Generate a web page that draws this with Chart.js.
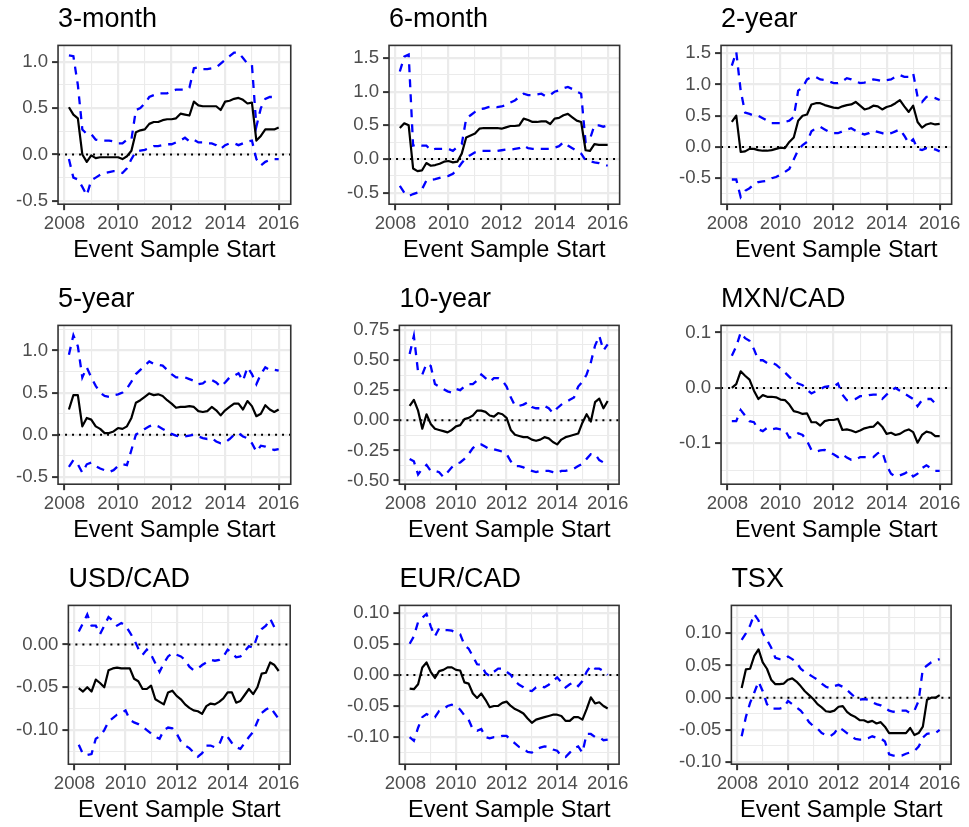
<!DOCTYPE html>
<html>
<head>
<meta charset="utf-8">
<title>Rolling event-sample estimates</title>
<script src="https://cdn.jsdelivr.net/npm/chart.js@4/dist/chart.umd.min.js"></script>
<style>
  html, body { margin: 0; padding: 0; background: #ffffff; overflow: hidden; }
  body { width: 969px; height: 827px; position: relative; }
  .panel { position: absolute; height: 280px; }
</style>
</head>
<body>
<script>
// sample start dates, every two months
const dates = [
  '2008-03', '2008-05', '2008-07', '2008-09', '2008-11',
  '2009-01', '2009-03', '2009-05', '2009-07', '2009-09', '2009-11',
  '2010-01', '2010-03', '2010-05', '2010-07', '2010-09', '2010-11',
  '2011-01', '2011-03', '2011-05', '2011-07', '2011-09', '2011-11',
  '2012-01', '2012-03', '2012-05', '2012-07', '2012-09', '2012-11',
  '2013-01', '2013-03', '2013-05', '2013-07', '2013-09', '2013-11',
  '2014-01', '2014-03', '2014-05', '2014-07', '2014-09', '2014-11',
  '2015-01', '2015-03', '2015-05', '2015-07', '2015-09', '2015-11',
  '2016-01'
];
const xTickLabels = ['2008', '2010', '2012', '2014', '2016'];

// 3-month
const threeMonthEst = [0.51, 0.43, 0.39, 0.0, -0.08, -0.01, -0.04, -0.03, -0.03, -0.03, -0.03, -0.03, -0.05, -0.02, 0.04, 0.24, 0.26, 0.27, 0.33, 0.35, 0.35, 0.37, 0.38, 0.38, 0.39, 0.44, 0.43, 0.42, 0.57, 0.53, 0.52, 0.52, 0.52, 0.52, 0.48, 0.57, 0.58, 0.6, 0.61, 0.59, 0.55, 0.56, 0.15, 0.2, 0.27, 0.27, 0.27, 0.29];
const threeMonthHi = [1.07, 1.06, 0.75, 0.27, 0.22, 0.22, 0.16, 0.15, 0.15, 0.15, 0.14, 0.12, 0.12, 0.16, 0.16, 0.48, 0.5, 0.55, 0.62, 0.64, 0.66, 0.66, 0.66, 0.68, 0.7, 0.7, 0.7, 0.72, 0.93, 0.94, 0.92, 0.92, 0.93, 0.94, 0.98, 1.02, 1.06, 1.1, 1.1, 1.04, 0.98, 0.97, 0.3, 0.5, 0.6, 0.62, 0.62, 0.62];
const threeMonthLo = [-0.05, -0.25, -0.27, -0.35, -0.44, -0.28, -0.25, -0.22, -0.2, -0.19, -0.18, -0.18, -0.2, -0.15, -0.05, 0.03, 0.04, 0.05, 0.07, 0.09, 0.09, 0.1, 0.11, 0.11, 0.13, 0.15, 0.18, 0.14, 0.16, 0.13, 0.13, 0.12, 0.12, 0.1, 0.06, 0.1, 0.12, 0.12, 0.1, 0.12, 0.14, 0.15, -0.05, -0.12, -0.08, -0.06, -0.05, -0.05];
const threeMonthTicks = ['-0.5', '0.0', '0.5', '1.0'];

// 6-month
const sixMonthEst = [0.46, 0.53, 0.5, -0.14, -0.18, -0.17, -0.06, -0.1, -0.09, -0.07, -0.04, -0.03, -0.05, -0.04, 0.08, 0.32, 0.35, 0.38, 0.45, 0.46, 0.46, 0.46, 0.46, 0.45, 0.47, 0.49, 0.49, 0.5, 0.6, 0.58, 0.55, 0.55, 0.56, 0.56, 0.52, 0.6, 0.61, 0.65, 0.67, 0.62, 0.57, 0.55, 0.13, 0.12, 0.22, 0.21, 0.21, 0.21];
const sixMonthHi = [1.3, 1.52, 1.55, 0.2, 0.22, 0.2, 0.2, 0.13, 0.15, 0.15, 0.15, 0.15, 0.12, 0.18, 0.22, 0.6, 0.65, 0.7, 0.74, 0.75, 0.77, 0.78, 0.77, 0.78, 0.8, 0.84, 0.87, 0.92, 0.97, 0.95, 0.95, 0.96, 0.97, 0.93, 0.95, 1.0, 1.02, 1.05, 1.07, 1.04, 1.0, 0.97, 0.25, 0.3, 0.5, 0.5, 0.48, 0.5];
const sixMonthLo = [-0.4, -0.5, -0.55, -0.52, -0.5, -0.45, -0.32, -0.31, -0.3, -0.28, -0.26, -0.25, -0.22, -0.15, -0.06, 0.02, 0.06, 0.1, 0.12, 0.12, 0.12, 0.12, 0.12, 0.13, 0.14, 0.14, 0.15, 0.16, 0.2, 0.16, 0.15, 0.15, 0.15, 0.15, 0.15, 0.17, 0.19, 0.25, 0.2, 0.16, 0.12, 0.08, -0.02, -0.03, -0.05, -0.06, -0.08, -0.1];
const sixMonthTicks = ['-0.5', '0.0', '0.5', '1.0', '1.5'];

// 2-year
const twoYearEst = [0.4, 0.5, -0.08, -0.07, -0.03, -0.03, -0.05, -0.06, -0.06, -0.05, -0.03, -0.01, -0.02, 0.08, 0.15, 0.42, 0.5, 0.52, 0.68, 0.7, 0.7, 0.67, 0.65, 0.63, 0.62, 0.65, 0.67, 0.68, 0.72, 0.66, 0.6, 0.62, 0.66, 0.65, 0.6, 0.64, 0.66, 0.7, 0.75, 0.65, 0.56, 0.66, 0.4, 0.31, 0.36, 0.38, 0.36, 0.37];
const twoYearHi = [1.3, 1.52, 0.9, 0.55, 0.53, 0.5, 0.5, 0.46, 0.42, 0.38, 0.38, 0.38, 0.4, 0.42, 0.48, 0.9, 0.95, 1.08, 1.12, 1.12, 1.08, 1.07, 1.05, 1.02, 1.02, 1.05, 1.1, 1.08, 1.05, 1.02, 1.03, 1.05, 1.08, 1.07, 1.05, 1.07, 1.08, 1.12, 1.15, 1.12, 1.12, 1.18, 0.8, 0.72, 0.8, 0.8, 0.78, 0.75];
const twoYearLo = [-0.52, -0.52, -0.8, -0.7, -0.66, -0.6, -0.56, -0.55, -0.54, -0.5, -0.48, -0.44, -0.4, -0.35, -0.2, -0.05, 0.03, 0.08, 0.25, 0.3, 0.32, 0.28, 0.24, 0.22, 0.22, 0.25, 0.28, 0.3, 0.26, 0.22, 0.2, 0.22, 0.26, 0.24, 0.22, 0.2, 0.22, 0.25, 0.28, 0.18, 0.06, 0.12, -0.03, -0.05, -0.02, -0.03, -0.04, -0.07];
const twoYearTicks = ['-0.5', '0.0', '0.5', '1.0', '1.5'];

// 5-year
const fiveYearEst = [0.3, 0.47, 0.47, 0.1, 0.2, 0.18, 0.1, 0.07, 0.02, 0.02, 0.04, 0.08, 0.07, 0.1, 0.2, 0.38, 0.41, 0.45, 0.49, 0.47, 0.48, 0.46, 0.41, 0.37, 0.32, 0.33, 0.33, 0.34, 0.33, 0.28, 0.27, 0.28, 0.33, 0.29, 0.23, 0.29, 0.33, 0.37, 0.37, 0.3, 0.4, 0.34, 0.22, 0.25, 0.35, 0.3, 0.27, 0.3];
const fiveYearHi = [0.95, 1.18, 1.05, 0.68, 0.8, 0.68, 0.58, 0.5, 0.46, 0.45, 0.47, 0.48, 0.5, 0.55, 0.63, 0.72, 0.77, 0.82, 0.87, 0.84, 0.83, 0.82, 0.77, 0.72, 0.68, 0.68, 0.68, 0.66, 0.64, 0.6, 0.61, 0.65, 0.65, 0.62, 0.57, 0.62, 0.68, 0.7, 0.73, 0.64, 0.8, 0.72, 0.6, 0.72, 0.8, 0.77, 0.77, 0.76];
const fiveYearLo = [-0.38, -0.3, -0.35, -0.45, -0.35, -0.33, -0.37, -0.4, -0.42, -0.44, -0.42, -0.37, -0.35, -0.36, -0.18, 0.0, 0.04, 0.07, 0.1, 0.12, 0.1, 0.07, 0.04, 0.01, -0.01, -0.02, -0.02, -0.01, 0.0, -0.02, -0.04, -0.05, -0.04, -0.08, -0.1, -0.09, -0.05, 0.0, 0.02, -0.02, -0.04, -0.1, -0.2, -0.13, -0.14, -0.16, -0.18, -0.17];
const fiveYearTicks = ['-0.5', '0.0', '0.5', '1.0'];

// 10-year
const tenYearEst = [0.12, 0.17, 0.08, -0.07, 0.05, -0.03, -0.07, -0.08, -0.09, -0.1, -0.08, -0.05, -0.04, 0.01, 0.02, 0.04, 0.08, 0.08, 0.07, 0.04, 0.03, 0.06, 0.05, 0.02, -0.08, -0.12, -0.13, -0.14, -0.14, -0.16, -0.17, -0.16, -0.14, -0.15, -0.18, -0.2, -0.16, -0.14, -0.13, -0.12, -0.11, -0.02, 0.05, -0.01, 0.15, 0.18, 0.1, 0.16];
const tenYearHi = [0.55, 0.7, 0.4, 0.38, 0.47, 0.45, 0.3, 0.28, 0.26, 0.24, 0.23, 0.26, 0.25, 0.28, 0.3, 0.3, 0.33, 0.38, 0.35, 0.32, 0.35, 0.35, 0.33, 0.28, 0.19, 0.12, 0.12, 0.13, 0.15, 0.11, 0.1, 0.1, 0.12, 0.1, 0.06, 0.1, 0.13, 0.15, 0.17, 0.19, 0.28, 0.32, 0.38, 0.48, 0.62, 0.7, 0.58, 0.63];
const tenYearLo = [-0.32, -0.34, -0.45, -0.4, -0.37, -0.42, -0.42, -0.43, -0.47, -0.43, -0.39, -0.36, -0.35, -0.32, -0.28, -0.23, -0.2, -0.2, -0.22, -0.24, -0.24, -0.25, -0.26, -0.28, -0.34, -0.38, -0.38, -0.39, -0.41, -0.42, -0.43, -0.42, -0.42, -0.42, -0.43, -0.44, -0.42, -0.42, -0.41, -0.4, -0.38, -0.36, -0.32, -0.28, -0.28, -0.33, -0.35, -0.32];
const tenYearTicks = ['-0.50', '-0.25', '0.00', '0.25', '0.50', '0.75'];

// MXN/CAD
const mxnEst = [0.0, 0.007, 0.03, 0.022, 0.015, -0.005, -0.02, -0.013, -0.016, -0.016, -0.017, -0.021, -0.022, -0.03, -0.042, -0.044, -0.047, -0.046, -0.062, -0.062, -0.068, -0.06, -0.058, -0.058, -0.056, -0.076, -0.075, -0.077, -0.08, -0.077, -0.073, -0.071, -0.07, -0.062, -0.07, -0.083, -0.081, -0.085, -0.083, -0.078, -0.075, -0.08, -0.099, -0.085, -0.079, -0.081, -0.087, -0.087];
const mxnHi = [0.058, 0.075, 0.1, 0.09, 0.085, 0.07, 0.05, 0.05, 0.045, 0.046, 0.042, 0.035, 0.028, 0.02, 0.012, 0.008, 0.005, -0.003, -0.01, -0.006, -0.002, 0.002, 0.003, 0.002, 0.008, -0.012, -0.022, -0.022, -0.02, -0.015, -0.015, -0.013, -0.012, -0.012, -0.02, -0.012, -0.005, 0.0, -0.005, -0.01, -0.015, -0.02, -0.033, -0.022, -0.02, -0.02, -0.028, -0.025];
const mxnLo = [-0.06, -0.06, -0.04, -0.05, -0.06, -0.062, -0.075, -0.078, -0.072, -0.075, -0.073, -0.075, -0.076, -0.09, -0.088, -0.082, -0.085, -0.096, -0.112, -0.115, -0.113, -0.112, -0.116, -0.12, -0.125, -0.12, -0.126, -0.13, -0.13, -0.125, -0.125, -0.125, -0.125, -0.118, -0.115, -0.14, -0.155, -0.16, -0.158, -0.155, -0.15, -0.16, -0.155, -0.145, -0.14, -0.145, -0.15, -0.15];
const mxnTicks = ['-0.1', '0.0', '0.1'];

// USD/CAD
const usdEst = [-0.051, -0.055, -0.05, -0.055, -0.041, -0.045, -0.05, -0.03, -0.028, -0.027, -0.028, -0.028, -0.028, -0.04, -0.043, -0.052, -0.052, -0.048, -0.064, -0.067, -0.07, -0.056, -0.054, -0.06, -0.064, -0.07, -0.074, -0.077, -0.078, -0.081, -0.072, -0.069, -0.07, -0.067, -0.063, -0.056, -0.056, -0.068, -0.066, -0.059, -0.052, -0.058, -0.05, -0.034, -0.033, -0.021, -0.024, -0.031];
const usdHi = [0.015, 0.025, 0.035, 0.022, 0.022, 0.012, 0.022, 0.032, 0.028, 0.022, 0.025, 0.022, 0.014, 0.006, -0.005, -0.012, -0.006, -0.012, -0.022, -0.032, -0.022, -0.014, -0.01, -0.012, -0.014, -0.018, -0.026, -0.03, -0.028, -0.024, -0.021, -0.018, -0.019, -0.018, -0.014, -0.006, -0.01, -0.015, -0.014, -0.008, -0.002, -0.004, 0.01, 0.018, 0.022, 0.03, 0.02, 0.022];
const usdLo = [-0.117, -0.128, -0.129, -0.128, -0.11, -0.107, -0.1, -0.09, -0.086, -0.082, -0.08, -0.077, -0.088, -0.091, -0.093, -0.096, -0.1, -0.104, -0.108, -0.11, -0.1, -0.097, -0.098, -0.104, -0.113, -0.118, -0.121, -0.126, -0.131, -0.127, -0.118, -0.118, -0.12, -0.117, -0.105, -0.108, -0.115, -0.12, -0.122, -0.115, -0.108, -0.102, -0.09, -0.08, -0.076, -0.073, -0.08, -0.087];
const usdTicks = ['-0.10', '-0.05', '0.00'];

// EUR/CAD
const eurEst = [-0.022, -0.023, -0.015, 0.012, 0.02, 0.005, -0.005, 0.006, 0.008, 0.012, 0.012, 0.008, 0.007, -0.012, -0.014, -0.03, -0.037, -0.03, -0.04, -0.052, -0.05, -0.05, -0.045, -0.043, -0.05, -0.055, -0.058, -0.062, -0.07, -0.077, -0.072, -0.07, -0.068, -0.066, -0.064, -0.064, -0.066, -0.074, -0.074, -0.068, -0.068, -0.072, -0.055, -0.036, -0.046, -0.044, -0.05, -0.054];
const eurHi = [0.05, 0.062, 0.085, 0.092, 0.098, 0.078, 0.062, 0.075, 0.072, 0.072, 0.071, 0.068, 0.065, 0.048, 0.042, 0.03, 0.017, 0.016, 0.003, -0.002, 0.005, 0.01, 0.01, 0.005, 0.0, -0.01, -0.016, -0.02, -0.025, -0.026, -0.02, -0.018, -0.02, -0.016, -0.01, -0.004, -0.012, -0.02, -0.015, -0.012, -0.018, -0.01, 0.005, 0.015, 0.01, 0.01, 0.006, 0.0];
const eurLo = [-0.1, -0.106, -0.085, -0.068, -0.063, -0.067, -0.068, -0.058, -0.055, -0.05, -0.048, -0.05, -0.056, -0.065, -0.072, -0.088, -0.09, -0.087, -0.1, -0.102, -0.1, -0.1, -0.098, -0.098, -0.105, -0.11, -0.116, -0.118, -0.124, -0.125, -0.12, -0.117, -0.115, -0.116, -0.12, -0.122, -0.13, -0.132, -0.125, -0.118, -0.115, -0.125, -0.095, -0.095, -0.1, -0.1, -0.105, -0.104];
const eurTicks = ['-0.10', '-0.05', '0.00', '0.05', '0.10'];

// TSX
const tsxEst = [0.015, 0.044, 0.045, 0.065, 0.075, 0.055, 0.045, 0.028, 0.021, 0.021, 0.022, 0.028, 0.03, 0.025, 0.018, 0.01, 0.004, -0.002, -0.01, -0.015, -0.021, -0.022, -0.02, -0.014, -0.013, -0.022, -0.027, -0.03, -0.035, -0.035, -0.038, -0.036, -0.04, -0.038, -0.045, -0.055, -0.055, -0.055, -0.055, -0.055, -0.047, -0.058, -0.055, -0.045, -0.003, 0.0, 0.0, 0.004];
const tsxHi = [0.09, 0.1, 0.112, 0.13, 0.12, 0.1, 0.09, 0.078, 0.062, 0.06, 0.06, 0.064, 0.06, 0.055, 0.045, 0.04, 0.036, 0.032, 0.028, 0.022, 0.017, 0.015, 0.018, 0.02, 0.017, 0.012, 0.006, 0.0, -0.003, -0.002, -0.003, -0.007, -0.01, -0.012, -0.016, -0.02, -0.022, -0.02, -0.02, -0.02, -0.024, -0.02, -0.005, 0.045, 0.05, 0.055, 0.058, 0.06];
const tsxLo = [-0.06, -0.03, -0.008, 0.008, 0.025, 0.01, -0.01, -0.017, -0.017, -0.017, -0.015, -0.005, -0.01, -0.015, -0.02, -0.028, -0.038, -0.044, -0.048, -0.055, -0.058, -0.06, -0.055, -0.046, -0.05, -0.055, -0.06, -0.064, -0.065, -0.065, -0.063, -0.06, -0.062, -0.063, -0.068, -0.088, -0.09, -0.09, -0.09, -0.087, -0.085, -0.083, -0.076, -0.062, -0.056, -0.055, -0.055, -0.05];
const tsxTicks = ['-0.10', '-0.05', '0.00', '0.05', '0.10'];

const panels = [
  { title: '3-month',  est: threeMonthEst, hi: threeMonthHi, lo: threeMonthLo, ticks: threeMonthTicks, yRange: [-0.537, 1.177] },
  { title: '6-month',  est: sixMonthEst,   hi: sixMonthHi,   lo: sixMonthLo,   ticks: sixMonthTicks,   yRange: [-0.671, 1.687] },
  { title: '2-year',   est: twoYearEst,    hi: twoYearHi,    lo: twoYearLo,    ticks: twoYearTicks,    yRange: [-0.915, 1.624] },
  { title: '5-year',   est: fiveYearEst,   hi: fiveYearHi,   lo: fiveYearLo,   ticks: fiveYearTicks,   yRange: [-0.586, 1.297] },
  { title: '10-year',  est: tenYearEst,    hi: tenYearHi,    lo: tenYearLo,    ticks: tenYearTicks,    yRange: [-0.53, 0.787] },
  { title: 'MXN/CAD',  est: mxnEst,        hi: mxnHi,        lo: mxnLo,        ticks: mxnTicks,        yRange: [-0.174, 0.113] },
  { title: 'USD/CAD',  est: usdEst,        hi: usdHi,        lo: usdLo,        ticks: usdTicks,        yRange: [-0.1398, 0.0456] },
  { title: 'EUR/CAD',  est: eurEst,        hi: eurHi,        lo: eurLo,        ticks: eurTicks,        yRange: [-0.1436, 0.1117] },
  { title: 'TSX',      est: tsxEst,        hi: tsxHi,        lo: tsxLo,        ticks: tsxTicks,        yRange: [-0.1033, 0.1434] }
];

const xRange = [2007.76, 2016.45];
const years = dates.map(d => {
  const [y, m] = d.split('-').map(Number);
  return y + (m - 1) / 12;
});

const FONT = "'Liberation Sans', Arial, 'DejaVu Sans', sans-serif";

// majors get labels, minors sit halfway between them (ggplot style)
function tickSet(labels, lo, hi) {
  const major = labels.map(Number);
  const step = major[1] - major[0];
  const minor = major.map(v => v - step / 2)
    .concat([major[major.length - 1] + step / 2])
    .filter(v => v > lo && v < hi);
  return major.map((v, i) => ({ value: v, label: labels[i], minor: false }))
    .concat(minor.map(v => ({ value: v, label: '', minor: true })))
    .sort((a, b) => a.value - b.value);
}

function axis(list, range, titleText) {
  return {
    type: 'linear',
    min: range[0],
    max: range[1],
    afterBuildTicks: scale => {
      scale.ticks = list.map(t => ({ value: t.value, minor: t.minor }));
    },
    ticks: {
      autoSkip: false,
      maxRotation: 0,
      minRotation: 0,
      padding: 4,
      color: '#4D4D4D',
      font: { family: FONT, size: 18.6, lineHeight: 1.0 },
      callback: (v, i) => list[i].label
    },
    grid: {
      color: '#EBEBEB',
      lineWidth: c => (c.tick && c.tick.minor ? 1.1 : 2.2),
      drawTicks: true,
      tickLength: 6,
      tickWidth: 2,
      tickColor: c => (c.tick && c.tick.minor ? 'rgba(0,0,0,0)' : '#333333')
    },
    border: { display: false },
    title: {
      display: !!titleText,
      text: titleText || '',
      color: '#000000',
      font: { family: FONT, size: 23.5 },
      padding: { top: 0, bottom: 0 }
    }
  };
}

const panelBorder = {
  id: 'panelBorder',
  afterDatasetsDraw(chart) {
    const { ctx, chartArea: a } = chart;
    ctx.save();
    ctx.strokeStyle = '#333333';
    ctx.lineWidth = 1.6;
    ctx.strokeRect(a.left, a.top, a.right - a.left, a.bottom - a.top);
    ctx.restore();
  }
};

// ggplot puts the title flush with the panel, not the canvas edge
const titleToPanel = {
  id: 'titleToPanel',
  afterLayout(chart) {
    if (chart.titleBlock) chart.titleBlock.left = chart.chartArea.left;
  }
};

const colLeft = [0, 331, 663];
const colWidth = [304, 302, 302];
const rowTop = [0, 280, 560];

const xList = tickSet(xTickLabels, xRange[0], xRange[1]);
const pts = arr => arr.map((v, i) => ({ x: years[i], y: v }));

panels.forEach((p, k) => {
  const box = document.createElement('div');
  box.className = 'panel';
  box.style.left = colLeft[k % 3] + 'px';
  box.style.top = rowTop[Math.floor(k / 3)] + 'px';
  box.style.width = colWidth[k % 3] + 'px';
  const canvas = document.createElement('canvas');
  box.appendChild(canvas);
  document.body.appendChild(box);

  new Chart(canvas.getContext('2d'), {
    type: 'line',
    data: {
      datasets: [
        {
          label: 'Estimate',
          data: pts(p.est),
          borderColor: '#000000',
          borderWidth: 2.2,
          borderJoinStyle: 'round',
          pointRadius: 0,
          tension: 0
        },
        {
          label: 'Upper band',
          data: pts(p.hi),
          borderColor: '#0000FF',
          borderWidth: 2.3,
          borderDash: [8, 7],
          pointRadius: 0,
          tension: 0
        },
        {
          label: 'Lower band',
          data: pts(p.lo),
          borderColor: '#0000FF',
          borderWidth: 2.3,
          borderDash: [8, 7],
          pointRadius: 0,
          tension: 0
        },
        {
          label: 'Zero',
          data: [{ x: xRange[0], y: 0 }, { x: xRange[1], y: 0 }],
          borderColor: '#000000',
          borderWidth: 2,
          borderDash: [2, 5],
          pointRadius: 0
        }
      ]
    },
    options: {
      responsive: true,
      maintainAspectRatio: false,
      animation: false,
      layout: { padding: { left: 12, right: 12, top: 0, bottom: 15 } },
      scales: {
        x: axis(xList, xRange, 'Event Sample Start'),
        y: axis(tickSet(p.ticks, p.yRange[0], p.yRange[1]), p.yRange, '')
      },
      plugins: {
        legend: { display: false },
        tooltip: { enabled: false },
        title: {
          display: true,
          text: p.title,
          align: 'start',
          color: '#000000',
          font: { family: FONT, size: 27, weight: 'normal' },
          padding: { top: 3, bottom: 10 }
        }
      }
    },
    plugins: [panelBorder, titleToPanel]
  });
});
</script>
</body>
</html>
